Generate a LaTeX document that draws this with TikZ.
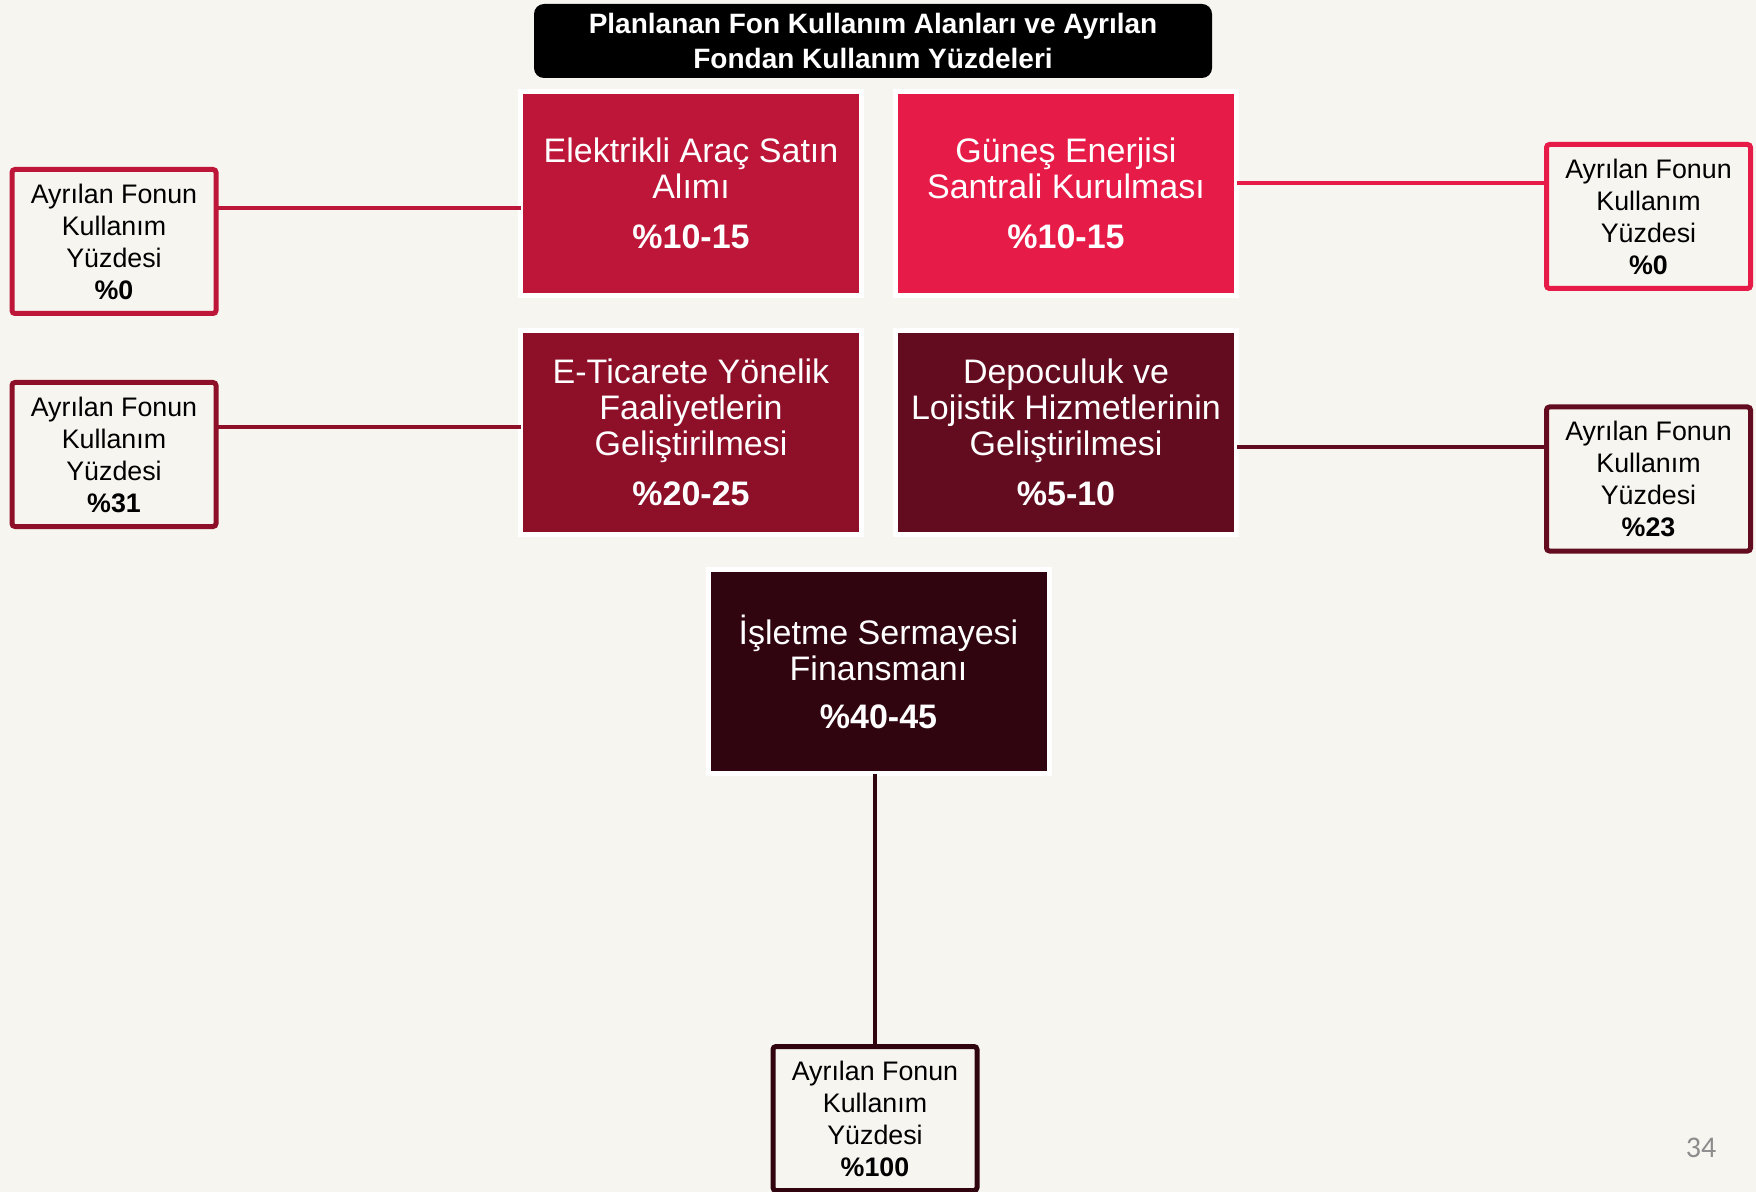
\documentclass[tikz,border=0pt]{standalone}
\usepackage{fontspec}
\setmainfont{Liberation Sans}
\newfontfamily\pagefont{Carlito}
\usepackage{tikz}
\usetikzlibrary{positioning,calc}
\definecolor{bgclr}{RGB}{246,245,240}
\definecolor{aracclr}{RGB}{189,22,56}
\definecolor{gunesclr}{RGB}{230,27,72}
\definecolor{ticclr}{RGB}{141,15,40}
\definecolor{depoclr}{RGB}{99,12,31}
\definecolor{isletclr}{RGB}{48,5,16}
\definecolor{pgclr}{RGB}{140,140,140}
\tikzset{ %
  ,x=0.5pt,y=-0.5pt
  ,area/.style={draw=white, line width=2.5pt, outer sep=0, inner sep=0, minimum width=170.5pt, minimum height=102pt, align=center, text=white, font=\fontsize{17pt}{18pt}\selectfont}
  ,share/.style={draw, line width=2.5pt, fill=bgclr, outer sep=0, inner sep=0, rounded corners=1.5pt, minimum width=102pt, minimum height=72pt, align=center, font=\fontsize{13.4pt}{16pt}\selectfont}
  ,head/.style={fill=black, rounded corners=5pt, minimum width=339pt, minimum height=37pt, inner sep=0, align=center, text=white, font=\bfseries\fontsize{14pt}{17.4pt}\selectfont}
  ,link/.style={line width=2pt}
}

\begin{document}
\begin{tikzpicture}
      \fill[bgclr] (0,0) rectangle (1756,1192);
      \useasboundingbox (0,0) rectangle (1756,1192);
      \draw 
      node[head] (title) at (873,41) {Planlanan Fon Kullanım Alanları ve Ayrılan\\Fondan Kullanım Yüzdeleri}
      node[area, fill=aracclr] (arac) at (691,193.5) {Elektrikli Araç Satın\\Alımı\\[7pt]\textbf{\%10-15}}
      node[area, fill=gunesclr, right=17pt of arac] (gunes) {Güneş Enerjisi\\Santrali Kurulması\\[7pt]\textbf{\%10-15}}
      node[area, fill=ticclr, below=17.5pt of arac] (ticaret) {E-Ticarete Yönelik\\Faaliyetlerin\\Geliştirilmesi\\[7pt]\textbf{\%20-25}}
      node[area, fill=depoclr, right=17pt of ticaret] (depo) {Depoculuk ve\\Lojistik Hizmetlerinin\\Geliştirilmesi\\[7pt]\textbf{\%5-10}};
      \coordinate (mid) at ($(ticaret.south)!.5!(depo.south)$);
      \node[area, fill=isletclr, below=17.5pt of mid] (islet) {İşletme Sermayesi\\Finansmanı\\[6pt]\textbf{\%40-45}};
      % fund shares
      \node[share, draw=aracclr] (pay1) at (114,241.5) {Ayrılan Fonun\\Kullanım\\Yüzdesi\\\textbf{\%0}};
      \node[share, draw=ticclr] (pay2) at (114,454.5) {Ayrılan Fonun\\Kullanım\\Yüzdesi\\\textbf{\%31}};
      \node[share, draw=gunesclr] (pay3) at (1648.5,216.5) {Ayrılan Fonun\\Kullanım\\Yüzdesi\\\textbf{\%0}};
      \node[share, draw=depoclr] (pay4) at (1648.5,479) {Ayrılan Fonun\\Kullanım\\Yüzdesi\\\textbf{\%23}};
      \node[share, draw=isletclr] (pay5) at (875,1118.5) {Ayrılan Fonun\\Kullanım\\Yüzdesi\\\textbf{\%100}};
      \draw[link, aracclr] ($(pay1.north east)!.27!(pay1.south east)$) coordinate (k1) -- (k1 -| arac.west);
      \draw[link, ticclr] ($(pay2.north east)!.31!(pay2.south east)$) coordinate (k2) -- (k2 -| ticaret.west);
      \draw[link, gunesclr] ($(pay3.north west)!.27!(pay3.south west)$) coordinate (k3) -- (k3 -| gunes.east);
      \draw[link, depoclr] ($(pay4.north west)!.28!(pay4.south west)$) coordinate (k4) -- (k4 -| depo.east);
      \draw[link, isletclr] (islet.south -| pay5.north) -- (pay5.north);
      \node[text=pgclr, font=\pagefont\fontsize{15pt}{15pt}\selectfont] (pgno) at (1701,1148) {34};
    \end{tikzpicture}
\end{document}
